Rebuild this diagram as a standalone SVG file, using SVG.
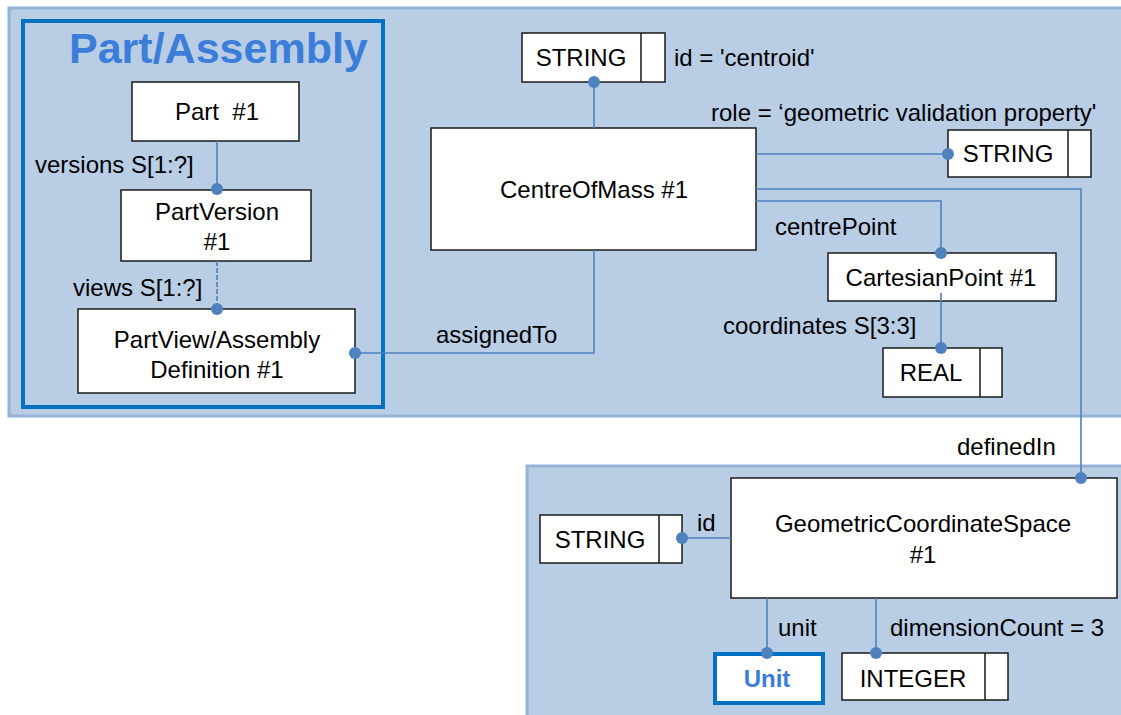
<svg xmlns="http://www.w3.org/2000/svg" width="1121" height="715" viewBox="0 0 1121 715">
<style>
.panel{fill:#b9cde5;stroke:#95b3d7;stroke-width:3}
.box{fill:#ffffff;stroke:#1a1a1a;stroke-width:1.5}
.frame{fill:none;stroke:#0070c0;stroke-width:4}
.conn{fill:none;stroke:#4f81bd;stroke-width:1.6}
.dot{fill:#4f81bd}
text{font-family:"Liberation Sans",Arial,sans-serif;font-size:24px;fill:#000}
.c{text-anchor:middle}
.title{font-size:43px;font-weight:bold;fill:#3b7dd8}
.blue{font-weight:bold;fill:#3b7dd8}
</style>
<rect width="1121" height="715" fill="#ffffff"/>
<rect class="panel" x="9" y="8" width="1120" height="408"/>
<rect class="panel" x="527" y="466" width="600" height="260"/>

<g id="part-assembly">
<rect class="frame" x="23" y="21" width="360" height="386"/>
<text class="title" x="69" y="63">Part/Assembly</text>
</g>

<g id="part">
<rect class="box" x="132" y="82" width="167" height="59"/>
<text class="c" x="217" y="120" xml:space="preserve">Part  #1</text>
</g>
<g id="partversion">
<rect class="box" x="121" y="190" width="190" height="71"/>
<text class="c" x="217" y="220">PartVersion</text>
<text class="c" x="217" y="250">#1</text>
</g>
<g id="partview">
<rect class="box" x="78" y="309" width="277" height="84"/>
<text class="c" x="217" y="348">PartView/Assembly</text>
<text class="c" x="217" y="378">Definition #1</text>
</g>
<g id="string-id">
<rect class="box" x="522" y="33" width="143" height="49"/>
<line class="box" x1="641" y1="33" x2="641" y2="82"/>
<text class="c" x="581" y="66">STRING</text>
</g>
<g id="centreofmass">
<rect class="box" x="431" y="128" width="325" height="122"/>
<text class="c" x="594" y="198">CentreOfMass #1</text>
</g>
<g id="string-role">
<rect class="box" x="948" y="130" width="143" height="47"/>
<line class="box" x1="1068" y1="130" x2="1068" y2="177"/>
<text class="c" x="1008" y="162">STRING</text>
</g>
<g id="cartesianpoint">
<rect class="box" x="828" y="253" width="228" height="48"/>
<text class="c" x="941" y="286">CartesianPoint #1</text>
</g>
<g id="real">
<rect class="box" x="883" y="348" width="119" height="49"/>
<line class="box" x1="980" y1="348" x2="980" y2="397"/>
<text class="c" x="931" y="381">REAL</text>
</g>
<g id="gcs">
<rect class="box" x="731" y="478" width="386" height="120"/>
<text class="c" x="923" y="532">GeometricCoordinateSpace</text>
<text class="c" x="923" y="563">#1</text>
</g>
<g id="string-gcs">
<rect class="box" x="540" y="515" width="142" height="48"/>
<line class="box" x1="659" y1="515" x2="659" y2="563"/>
<text class="c" x="600" y="548">STRING</text>
</g>
<g id="unit">
<rect x="715" y="654" width="108" height="49" fill="#ffffff" stroke="#0070c0" stroke-width="4"/>
<text class="c blue" x="767" y="687">Unit</text>
</g>
<g id="integer">
<rect class="box" x="842" y="653" width="166" height="47"/>
<line class="box" x1="985" y1="653" x2="985" y2="700"/>
<text class="c" x="913" y="687">INTEGER</text>
</g>

<g id="connectors">
<path class="conn" d="M217 141V189"/>
<path class="conn" d="M217 261V309" stroke-dasharray="5 2"/>
<path class="conn" d="M355 353H594V250"/>
<path class="conn" d="M594 82V128"/>
<path class="conn" d="M756 154H948"/>
<path class="conn" d="M756 189H1081V478"/>
<path class="conn" d="M756 201H941V253"/>
<path class="conn" d="M941 293V348"/>
<path class="conn" d="M682 538H731"/>
<path class="conn" d="M767 598V653"/>
<path class="conn" d="M876 598V653"/>
<circle class="dot" cx="217" cy="189" r="6"/>
<circle class="dot" cx="217" cy="309" r="6"/>
<circle class="dot" cx="355" cy="353" r="6"/>
<circle class="dot" cx="594" cy="82" r="6"/>
<circle class="dot" cx="948" cy="154" r="6"/>
<circle class="dot" cx="1081" cy="478" r="6"/>
<circle class="dot" cx="941" cy="253" r="6"/>
<circle class="dot" cx="941" cy="348" r="6"/>
<circle class="dot" cx="682" cy="538" r="6"/>
<circle class="dot" cx="767" cy="653" r="6"/>
<circle class="dot" cx="876" cy="653" r="6"/>
<text x="35" y="173">versions S[1:?]</text>
<text x="73" y="296">views S[1:?]</text>
<text x="436" y="343">assignedTo</text>
<text x="674" y="66">id = 'centroid'</text>
<text x="711" y="121">role = ‘geometric validation property'</text>
<text x="775" y="235">centrePoint</text>
<text x="723" y="334">coordinates S[3:3]</text>
<text x="957" y="455">definedIn</text>
<text x="697" y="531">id</text>
<text x="778" y="636">unit</text>
<text x="890" y="636">dimensionCount = 3</text>
</g>
</svg>
